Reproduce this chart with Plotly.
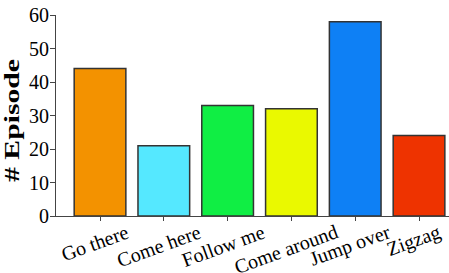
import plotly.graph_objects as go

categories = ["Go there", "Come here", "Follow me", "Come around", "Jump over", "Zigzag"]
episodes = [44, 21, 33, 32, 58, 24]
colors = ["#F39200", "#55E8FF", "#10EE44", "#EAF900", "#0E80F5", "#EE3300"]
y_ticks = [0, 10, 20, 30, 40, 50, 60]
y_title = "# Episode"

serif = "Liberation Serif"

fig = go.Figure(go.Bar(
    x=categories, y=episodes,
    marker=dict(color=colors, line=dict(color="#333333", width=1.5)),
    width=0.81,
))

annotations = [
    dict(x=c, y=0, xref="x", yref="paper", text=c, showarrow=False,
         textangle=-20, xanchor="center", yanchor="top", yshift=-2, xshift=-5,
         font=dict(size=20, family=serif, color="black"))
    for c in categories
]
annotations.append(dict(
    x=0, y=0.473, xref="paper", yref="paper", text=y_title,
    showarrow=False, textangle=-90, xanchor="center", yanchor="middle", xshift=-44,
    font=dict(size=21, family=serif, color="black", weight="bold"),
))

fig.update_layout(
    width=449, height=273,
    margin=dict(l=56, r=0, t=15, b=57),
    plot_bgcolor="white", paper_bgcolor="white",
    font=dict(family=serif, color="black"),
    showlegend=False,
    annotations=annotations,
)
fig.update_xaxes(
    range=[-0.69, 5.47], automargin=False,
    showline=True, linecolor="#444444", linewidth=1,
    ticks="outside", ticklen=4, tickcolor="#444444",
    showticklabels=False, showgrid=False,
)
fig.update_yaxes(
    range=[0, 60], tickvals=y_ticks, automargin=False,
    showline=True, linecolor="#444444", linewidth=1,
    ticks="outside", ticklen=5, tickcolor="#444444",
    tickfont=dict(size=20, family=serif, color="black"),
    ticklabelstandoff=-3,
    showgrid=False, zeroline=False,
)

post = """
document.body.style.margin = '0';
try {
  document.querySelectorAll('.annotation-text').forEach(function (t) {
    if (t.textContent.indexOf('Episode') >= 0) {
      t.setAttribute('textLength', '123');
      t.setAttribute('lengthAdjust', 'spacingAndGlyphs');
    }
  });
} catch (e) {}
"""
fig.write_html("out.html", post_script=post, config={"displayModeBar": False})
